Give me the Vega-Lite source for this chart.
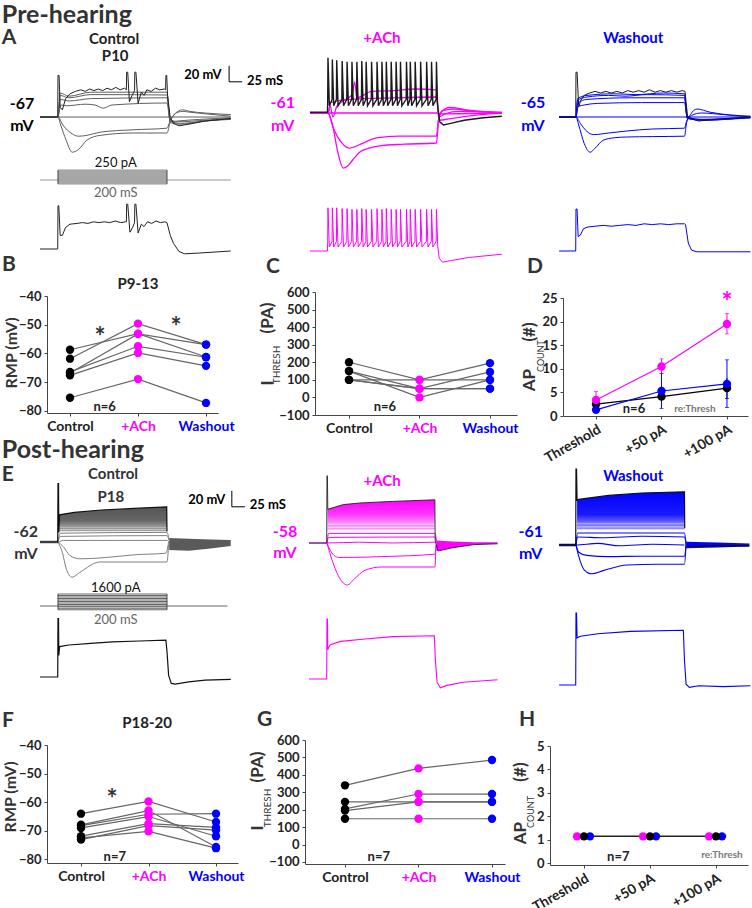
{"$schema":"https://vega.github.io/schema/vega-lite/v6.json","padding":0,"background":"white","columns":3,"spacing":0,"bounds":"flush","align":"each",
"config":{"view":{"stroke":null},"text":{"font":"Lato","fontWeight":"bold","baseline":"middle","color":"#222"},"axis":{"grid":false,"labelFont":"Lato","labelFontWeight":"bold","labelFontSize":13,"labelColor":"#222","domainColor":"#444","tickColor":"#444","tickSize":3,"labelPadding":3,"labelFlush":false,"labelOverlap":false,"title":null}},
"datasets":{
"fA":[{"s":1,"t":-33,"v":-67},{"s":1,"t":317,"v":-67},
{"s":2,"t":-33,"v":-67},{"s":2,"t":0,"v":-67},{"s":2,"t":9,"v":-77},{"s":2,"t":26,"v":-88},{"s":2,"t":37,"v":-91},{"s":2,"t":53,"v":-90},{"s":2,"t":77,"v":-86},{"s":2,"t":138,"v":-83},{"s":2,"t":200,"v":-81},{"s":2,"t":206,"v":-71},{"s":2,"t":211,"v":-66},{"s":2,"t":220,"v":-61},{"s":2,"t":229,"v":-60},{"s":2,"t":242,"v":-61},{"s":2,"t":270,"v":-63},{"s":2,"t":317,"v":-66},
{"s":3,"t":-33,"v":-67},{"s":3,"t":0,"v":-67},{"s":3,"t":5,"v":-77},{"s":3,"t":15,"v":-96},{"s":3,"t":26,"v":-111},{"s":3,"t":37,"v":-108},{"s":3,"t":53,"v":-96},{"s":3,"t":77,"v":-90},{"s":3,"t":138,"v":-87},{"s":3,"t":200,"v":-87},{"s":3,"t":206,"v":-73},{"s":3,"t":211,"v":-66},{"s":3,"t":220,"v":-60},{"s":3,"t":229,"v":-58},{"s":3,"t":242,"v":-60},{"s":3,"t":270,"v":-62},{"s":3,"t":317,"v":-64},
{"s":4,"t":-33,"v":-67},{"s":4,"t":0,"v":-67},{"s":4,"t":5,"v":-52},{"s":4,"t":15,"v":-53},{"s":4,"t":50,"v":-51},{"s":4,"t":68,"v":-52},{"s":4,"t":83,"v":-56},{"s":4,"t":99,"v":-52},{"s":4,"t":200,"v":-49.5},{"s":4,"t":206,"v":-73},{"s":4,"t":220,"v":-72},{"s":4,"t":260,"v":-70},{"s":4,"t":317,"v":-68},
{"s":5,"t":-33,"v":-67},{"s":5,"t":0,"v":-67},{"s":5,"t":4,"v":-45},{"s":5,"t":20,"v":-47},{"s":5,"t":60,"v":-44},{"s":5,"t":200,"v":-43},{"s":5,"t":206,"v":-70},{"s":5,"t":220,"v":-73},{"s":5,"t":270,"v":-71},{"s":5,"t":317,"v":-69},
{"s":6,"t":-33,"v":-67},{"s":6,"t":0,"v":-67},{"s":6,"t":4,"v":-40},{"s":6,"t":20,"v":-43},{"s":6,"t":60,"v":-39},{"s":6,"t":200,"v":-39.5},{"s":6,"t":206,"v":-72},{"s":6,"t":225,"v":-75},{"s":6,"t":270,"v":-72},{"s":6,"t":317,"v":-70},
{"s":7,"t":-33,"v":-67},{"s":7,"t":0,"v":-67},{"s":7,"t":4,"v":-37},{"s":7,"t":20,"v":-41},{"s":7,"t":60,"v":-36},{"s":7,"t":200,"v":-36},{"s":7,"t":206,"v":-74},{"s":7,"t":225,"v":-76},{"s":7,"t":270,"v":-72},{"s":7,"t":317,"v":-69}],
"kA":[{"t":-33,"v":-67},{"t":-0.5,"v":-67},{"t":0,"v":-15},{"t":2,"v":-15},{"t":4,"v":-55},{"t":8,"v":-58},{"t":14,"v":-44},{"t":22,"v":-38},{"t":32,"v":-35},{"t":42,"v":-33},{"t":50,"v":-35},{"t":58,"v":-32},{"t":66,"v":-34},{"t":74,"v":-32},{"t":82,"v":-34},{"t":90,"v":-31},{"t":98,"v":-33},{"t":106,"v":-30},{"t":114,"v":-33},{"t":122,"v":-31},{"t":125.5,"v":-33},{"t":126,"v":-11},{"t":128,"v":-11},{"t":131,"v":-48},{"t":136,"v":-40},{"t":140.5,"v":-34},{"t":141,"v":-11},{"t":143,"v":-11},{"t":147,"v":-50},{"t":153,"v":-36},{"t":158,"v":-40},{"t":163,"v":-33},{"t":171,"v":-35},{"t":179,"v":-31},{"t":187,"v":-33},{"t":195,"v":-32},{"t":197.5,"v":-33},{"t":198,"v":-15},{"t":199.5,"v":-15},{"t":201,"v":-40},{"t":206,"v":-68},{"t":212,"v":-75},{"t":222,"v":-78},{"t":240,"v":-76},{"t":270,"v":-72},{"t":317,"v":-69}],
"fB":[{"s":1,"t":-33,"v":-61},{"s":1,"t":200,"v":-61},{"s":1,"t":205,"v":-62},{"s":1,"t":319,"v":-61},
{"s":2,"t":-33,"v":-61},{"s":2,"t":0,"v":-61},{"s":2,"t":8,"v":-75},{"s":2,"t":18,"v":-110},{"s":2,"t":28,"v":-130},{"s":2,"t":35,"v":-128},{"s":2,"t":45,"v":-120},{"s":2,"t":58,"v":-110},{"s":2,"t":75,"v":-105},{"s":2,"t":95,"v":-102},{"s":2,"t":140,"v":-100},{"s":2,"t":199,"v":-98.5},{"s":2,"t":203,"v":-70},{"s":2,"t":208,"v":-60},{"s":2,"t":223,"v":-54},{"s":2,"t":254,"v":-57},{"s":2,"t":319,"v":-61},
{"s":3,"t":-33,"v":-61},{"s":3,"t":0,"v":-61},{"s":3,"t":10,"v":-80},{"s":3,"t":25,"v":-98},{"s":3,"t":40,"v":-105},{"s":3,"t":60,"v":-100},{"s":3,"t":89,"v":-92},{"s":3,"t":130,"v":-90},{"s":3,"t":199,"v":-90},{"s":3,"t":203,"v":-68},{"s":3,"t":210,"v":-58},{"s":3,"t":230,"v":-56},{"s":3,"t":270,"v":-59},{"s":3,"t":319,"v":-61},
{"s":4,"t":-33,"v":-61},{"s":4,"t":0,"v":-61},{"s":4,"t":4,"v":-52},{"s":4,"t":9,"v":-66},{"s":4,"t":16,"v":-53},{"s":4,"t":30,"v":-45},{"s":4,"t":44,"v":-38},{"s":4,"t":49,"v":-22},{"s":4,"t":53,"v":-42},{"s":4,"t":80,"v":-34},{"s":4,"t":120,"v":-33},{"s":4,"t":160,"v":-31},{"s":4,"t":199,"v":-32},{"s":4,"t":203,"v":-66},{"s":4,"t":215,"v":-62},{"s":4,"t":240,"v":-59},{"s":4,"t":319,"v":-60},
{"s":5,"t":-33,"v":-61},{"s":5,"t":0,"v":-61},{"s":5,"t":5,"v":-48},{"s":5,"t":40,"v":-44},{"s":5,"t":120,"v":-42},{"s":5,"t":199,"v":-41},{"s":5,"t":204,"v":-70},{"s":5,"t":225,"v":-68},{"s":5,"t":280,"v":-63},{"s":5,"t":319,"v":-61}],
"kB":[{"t":-33,"v":-60},{"t":-1,"v":-60},{"t":-0.5,"v":-44},{"t":0,"v":8},{"t":2.5,"v":-52},{"t":7.5,"v":-44},{"t":8,"v":6},{"t":10.5,"v":-52},{"t":15.5,"v":-44},{"t":16,"v":5},{"t":18.5,"v":-52},{"t":25.5,"v":-44},{"t":26,"v":4},{"t":28.5,"v":-52},{"t":34.5,"v":-44},{"t":35,"v":3},{"t":37.5,"v":-52},{"t":43.5,"v":-44},{"t":44,"v":3},{"t":46.5,"v":-52},{"t":52.5,"v":-44},{"t":53,"v":3},{"t":55.5,"v":-52},{"t":61.5,"v":-44},{"t":62,"v":4},{"t":64.5,"v":-52},{"t":69.5,"v":-44},{"t":70,"v":3},{"t":72.5,"v":-52},{"t":79.5,"v":-44},{"t":80,"v":3},{"t":82.5,"v":-52},{"t":89.5,"v":-44},{"t":90,"v":3},{"t":92.5,"v":-52},{"t":98.5,"v":-44},{"t":99,"v":3},{"t":101.5,"v":-52},{"t":106.5,"v":-44},{"t":107,"v":3},{"t":109.5,"v":-52},{"t":115.5,"v":-44},{"t":116,"v":3},{"t":118.5,"v":-52},{"t":124.5,"v":-44},{"t":125,"v":3},{"t":127.5,"v":-52},{"t":132.5,"v":-44},{"t":133,"v":3},{"t":135.5,"v":-52},{"t":143.5,"v":-44},{"t":144,"v":3},{"t":146.5,"v":-52},{"t":150.5,"v":-44},{"t":151,"v":3},{"t":153.5,"v":-52},{"t":159.5,"v":-44},{"t":160,"v":3},{"t":162.5,"v":-52},{"t":169.5,"v":-44},{"t":170,"v":3},{"t":172.5,"v":-52},{"t":180.5,"v":-44},{"t":181,"v":3},{"t":183.5,"v":-52},{"t":189.5,"v":-44},{"t":190,"v":3},{"t":192.5,"v":-52},{"t":198.5,"v":-44},{"t":199,"v":3},{"t":201,"v":-50},{"t":205,"v":-72},{"t":212,"v":-76},{"t":225,"v":-74},{"t":250,"v":-70},{"t":285,"v":-67},{"t":319,"v":-65}],
"fC":[{"s":1,"t":-31,"v":-65},{"s":1,"t":320,"v":-65},
{"s":2,"t":-31,"v":-65},{"s":2,"t":0,"v":-65},{"s":2,"t":5,"v":-75},{"s":2,"t":15,"v":-98},{"s":2,"t":26,"v":-109},{"s":2,"t":35,"v":-104},{"s":2,"t":50,"v":-94},{"s":2,"t":70,"v":-91},{"s":2,"t":93,"v":-90},{"s":2,"t":140,"v":-89.5},{"s":2,"t":199,"v":-89},{"s":2,"t":203,"v":-72},{"s":2,"t":210,"v":-62},{"s":2,"t":222,"v":-55},{"s":2,"t":246,"v":-59},{"s":2,"t":320,"v":-64},
{"s":3,"t":-31,"v":-65},{"s":3,"t":0,"v":-65},{"s":3,"t":8,"v":-73},{"s":3,"t":20,"v":-83},{"s":3,"t":32,"v":-87},{"s":3,"t":60,"v":-85},{"s":3,"t":93,"v":-82.5},{"s":3,"t":140,"v":-80},{"s":3,"t":199,"v":-79},{"s":3,"t":203,"v":-70},{"s":3,"t":212,"v":-63},{"s":3,"t":230,"v":-60},{"s":3,"t":270,"v":-62},{"s":3,"t":320,"v":-65},
{"s":4,"t":-31,"v":-65},{"s":4,"t":0,"v":-65},{"s":4,"t":4,"v":-52},{"s":4,"t":15,"v":-50},{"s":4,"t":40,"v":-48},{"s":4,"t":120,"v":-47},{"s":4,"t":199,"v":-47},{"s":4,"t":204,"v":-64},{"s":4,"t":225,"v":-68},{"s":4,"t":320,"v":-66},
{"s":5,"t":-31,"v":-65},{"s":5,"t":0,"v":-65},{"s":5,"t":3,"v":-48},{"s":5,"t":20,"v":-43},{"s":5,"t":100,"v":-41},{"s":5,"t":199,"v":-41},{"s":5,"t":204,"v":-66},{"s":5,"t":230,"v":-69},{"s":5,"t":320,"v":-66},
{"s":6,"t":-31,"v":-65},{"s":6,"t":0,"v":-65},{"s":6,"t":3,"v":-44},{"s":6,"t":20,"v":-40},{"s":6,"t":60,"v":-38},{"s":6,"t":90,"v":-39},{"s":6,"t":130,"v":-37},{"s":6,"t":199,"v":-38},{"s":6,"t":204,"v":-66},{"s":6,"t":235,"v":-68},{"s":6,"t":320,"v":-65},
{"s":7,"t":-31,"v":-65},{"s":7,"t":0,"v":-65},{"s":7,"t":3,"v":-42},{"s":7,"t":20,"v":-38},{"s":7,"t":70,"v":-36},{"s":7,"t":110,"v":-37},{"s":7,"t":160,"v":-35},{"s":7,"t":199,"v":-36},{"s":7,"t":204,"v":-67},{"s":7,"t":235,"v":-69},{"s":7,"t":320,"v":-65}],
"kC":[{"t":-31,"v":-65},{"t":-0.5,"v":-65},{"t":0,"v":-9},{"t":2,"v":-9},{"t":5,"v":-52},{"t":9,"v":-44},{"t":15,"v":-38},{"t":25,"v":-35},{"t":35,"v":-33},{"t":45,"v":-35},{"t":55,"v":-33},{"t":65,"v":-35},{"t":75,"v":-33},{"t":85,"v":-35},{"t":95,"v":-32},{"t":105,"v":-34},{"t":115,"v":-32},{"t":125,"v":-34},{"t":135,"v":-31},{"t":145,"v":-34},{"t":155,"v":-32},{"t":165,"v":-34},{"t":175,"v":-32},{"t":185,"v":-34},{"t":195,"v":-32},{"t":200,"v":-33},{"t":205,"v":-66},{"t":225,"v":-70},{"t":270,"v":-67},{"t":320,"v":-65}],
"sA":[{"t":-33,"v":-67},{"t":-0.5,"v":-67},{"t":0,"v":-13},{"t":1.5,"v":-13},{"t":4,"v":-50},{"t":8,"v":-50},{"t":14,"v":-40},{"t":22,"v":-36},{"t":35,"v":-35},{"t":45,"v":-34},{"t":55,"v":-35},{"t":65,"v":-33},{"t":75,"v":-34},{"t":85,"v":-33},{"t":95,"v":-34},{"t":105,"v":-32},{"t":115,"v":-34},{"t":124,"v":-33},{"t":125.5,"v":-33},{"t":126,"v":-11},{"t":128,"v":-11},{"t":132,"v":-46},{"t":137,"v":-40},{"t":140.5,"v":-34},{"t":141,"v":-11},{"t":143,"v":-11},{"t":147,"v":-47},{"t":153,"v":-36},{"t":158,"v":-39},{"t":164,"v":-33},{"t":172,"v":-35},{"t":180,"v":-32},{"t":188,"v":-34},{"t":196,"v":-33},{"t":200,"v":-34},{"t":206,"v":-50},{"t":212,"v":-60},{"t":222,"v":-70},{"t":232,"v":-73},{"t":260,"v":-72},{"t":317,"v":-69.5}],
"sB":[{"t":-33,"v":-61},{"t":-1,"v":-61},{"t":-0.5,"v":-49},{"t":0,"v":-7},{"t":2.5,"v":-56},{"t":7.5,"v":-49},{"t":8,"v":-7},{"t":10.5,"v":-56},{"t":15.5,"v":-49},{"t":16,"v":-7},{"t":18.5,"v":-56},{"t":25.5,"v":-49},{"t":26,"v":-8},{"t":28.5,"v":-56},{"t":34.5,"v":-49},{"t":35,"v":-8},{"t":37.5,"v":-56},{"t":43.5,"v":-49},{"t":44,"v":-9},{"t":46.5,"v":-56},{"t":52.5,"v":-49},{"t":53,"v":-9},{"t":55.5,"v":-56},{"t":61.5,"v":-49},{"t":62,"v":-8},{"t":64.5,"v":-56},{"t":69.5,"v":-49},{"t":70,"v":-9},{"t":72.5,"v":-56},{"t":79.5,"v":-49},{"t":80,"v":-9},{"t":82.5,"v":-56},{"t":89.5,"v":-49},{"t":90,"v":-8},{"t":92.5,"v":-56},{"t":98.5,"v":-49},{"t":99,"v":-9},{"t":101.5,"v":-56},{"t":106.5,"v":-49},{"t":107,"v":-8},{"t":109.5,"v":-56},{"t":115.5,"v":-49},{"t":116,"v":-9},{"t":118.5,"v":-56},{"t":124.5,"v":-49},{"t":125,"v":-9},{"t":127.5,"v":-56},{"t":132.5,"v":-49},{"t":133,"v":-9},{"t":135.5,"v":-56},{"t":143.5,"v":-49},{"t":144,"v":-9},{"t":146.5,"v":-56},{"t":150.5,"v":-49},{"t":151,"v":-9},{"t":153.5,"v":-56},{"t":159.5,"v":-49},{"t":160,"v":-9},{"t":162.5,"v":-56},{"t":169.5,"v":-49},{"t":170,"v":-9},{"t":172.5,"v":-56},{"t":180.5,"v":-49},{"t":181,"v":-9},{"t":183.5,"v":-56},{"t":189.5,"v":-49},{"t":190,"v":-9},{"t":192.5,"v":-56},{"t":198.5,"v":-49},{"t":199,"v":-9},{"t":201.5,"v":-56},{"t":204,"v":-70},{"t":210,"v":-75},{"t":225,"v":-73},{"t":260,"v":-69},{"t":319,"v":-65}],
"sC":[{"t":-31,"v":-65},{"t":-0.5,"v":-65},{"t":0,"v":-12.5},{"t":2,"v":-12.5},{"t":4,"v":-47},{"t":8,"v":-45},{"t":14,"v":-37},{"t":22,"v":-35},{"t":35,"v":-34},{"t":50,"v":-33},{"t":65,"v":-34},{"t":80,"v":-33},{"t":95,"v":-32},{"t":110,"v":-33},{"t":125,"v":-31},{"t":140,"v":-32},{"t":155,"v":-31},{"t":170,"v":-32},{"t":185,"v":-31},{"t":199,"v":-31},{"t":201,"v":-32},{"t":206,"v":-55},{"t":212,"v":-64},{"t":222,"v":-66},{"t":320,"v":-66}],
"stimA":[{"t":-33,"t2":317,"pA":0},{"t":0,"t2":200,"pA":-100},{"t":0,"t2":200,"pA":-75},{"t":0,"t2":200,"pA":-50},{"t":0,"t2":200,"pA":-25},{"t":0,"t2":200,"pA":25},{"t":0,"t2":200,"pA":50},{"t":0,"t2":200,"pA":75},{"t":0,"t2":200,"pA":100},{"t":0,"t2":200,"pA":125},{"t":0,"t2":200,"pA":150},{"t":0,"t2":200,"pA":175},{"t":0,"t2":200,"pA":200},{"t":0,"t2":200,"pA":225},{"t":0,"t2":200,"pA":250}],
"stimE":[{"t":-33,"t2":311,"pA":0},{"t":0,"t2":200,"pA":-500},{"t":0,"t2":200,"pA":-300},{"t":0,"t2":200,"pA":-100},{"t":0,"t2":200,"pA":200},{"t":0,"t2":200,"pA":400},{"t":0,"t2":200,"pA":600},{"t":0,"t2":200,"pA":800},{"t":0,"t2":200,"pA":1000},{"t":0,"t2":200,"pA":1200},{"t":0,"t2":200,"pA":1400},{"t":0,"t2":200,"pA":1600}],
"aE":[{"t":0,"v":-28,"low":-49},{"t":30,"v":-25,"low":-49},{"t":80,"v":-22,"low":-49},{"t":140,"v":-20,"low":-49},{"t":200,"v":-18,"low":-49}],
"bE":[{"t":204,"v":-57,"low":-72},{"t":240,"v":-58,"low":-73},{"t":280,"v":-59,"low":-70},{"t":317,"v":-59.5,"low":-67}],
"fE":[{"s":1,"t":-33,"v":-62},{"s":1,"t":0,"v":-62},{"s":1,"t":10,"v":-60},{"s":1,"t":200,"v":-60},{"s":1,"t":204,"v":-62},
{"s":2,"t":0,"v":-62},{"s":2,"t":4,"v":-55},{"s":2,"t":200,"v":-54},{"s":2,"t":204,"v":-60},
{"s":3,"t":0,"v":-62},{"s":3,"t":4,"v":-51},{"s":3,"t":200,"v":-50},{"s":3,"t":204,"v":-60},
{"s":4,"t":0,"v":-62},{"s":4,"t":10,"v":-68},{"s":4,"t":22,"v":-79},{"s":4,"t":40,"v":-83},{"s":4,"t":77,"v":-82},{"s":4,"t":140,"v":-78},{"s":4,"t":198,"v":-76},{"s":4,"t":203,"v":-62},
{"s":5,"t":0,"v":-62},{"s":5,"t":8,"v":-75},{"s":5,"t":15,"v":-95},{"s":5,"t":26,"v":-106},{"s":5,"t":40,"v":-100},{"s":5,"t":77,"v":-87},{"s":5,"t":138,"v":-87},{"s":5,"t":200,"v":-87},{"s":5,"t":203,"v":-65}],
"kE":[{"t":-33,"v":-62},{"t":-0.5,"v":-62},{"t":0,"v":11},{"t":1,"v":11},{"t":1.5,"v":-50},{"t":3,"v":-28},{"t":30,"v":-25},{"t":80,"v":-22},{"t":140,"v":-20},{"t":199.5,"v":-18},{"t":200,"v":-49}],
"preE":[{"t":-33,"v":-62},{"t":0,"v":-62}],
"sE":[{"t":-33,"v":-62},{"t":-0.5,"v":-62},{"t":0,"v":11},{"t":1,"v":11},{"t":1.5,"v":-35},{"t":3,"v":-24},{"t":20,"v":-22},{"t":60,"v":-20},{"t":100,"v":-18},{"t":150,"v":-17},{"t":198,"v":-16},{"t":200,"v":-30},{"t":203,"v":-60},{"t":208,"v":-70},{"t":215,"v":-71},{"t":240,"v":-68},{"t":270,"v":-66},{"t":317,"v":-65}],
"aF":[{"t":1,"v":-15.5,"low":-42},{"t":30,"v":-10,"low":-42},{"t":60,"v":-8,"low":-42},{"t":120,"v":-6,"low":-42},{"t":198,"v":-4,"low":-42}],
"bF":[{"t":201,"v":-55,"low":-68},{"t":230,"v":-56,"low":-64},{"t":270,"v":-57,"low":-60},{"t":313,"v":-57,"low":-59}],
"fF":[{"s":1,"t":-33,"v":-58},{"s":1,"t":0,"v":-58},{"s":1,"t":60,"v":-57},{"s":1,"t":120,"v":-58},{"s":1,"t":198,"v":-57},{"s":1,"t":202,"v":-58},
{"s":2,"t":0,"v":-58},{"s":2,"t":3,"v":-51},{"s":2,"t":198,"v":-50.5},{"s":2,"t":201,"v":-56},
{"s":3,"t":0,"v":-58},{"s":3,"t":3,"v":-46},{"s":3,"t":198,"v":-46},{"s":3,"t":201,"v":-56},
{"s":4,"t":0,"v":-58},{"s":4,"t":5,"v":-66},{"s":4,"t":21,"v":-76},{"s":4,"t":40,"v":-76},{"s":4,"t":100,"v":-75},{"s":4,"t":198,"v":-72},{"s":4,"t":201,"v":-60},
{"s":5,"t":0,"v":-58},{"s":5,"t":5,"v":-70},{"s":5,"t":15,"v":-90},{"s":5,"t":30,"v":-108},{"s":5,"t":37,"v":-110.5},{"s":5,"t":50,"v":-103},{"s":5,"t":70,"v":-92},{"s":5,"t":100,"v":-88},{"s":5,"t":198,"v":-88},{"s":5,"t":200,"v":-60}],
"kF":[{"t":-33,"v":-58},{"t":-0.5,"v":-58},{"t":0,"v":26},{"t":0.8,"v":26},{"t":1.5,"v":-16},{"t":30,"v":-10},{"t":60,"v":-8},{"t":120,"v":-6},{"t":198,"v":-4},{"t":198.5,"v":-55},{"t":204,"v":-68},{"t":230,"v":-64},{"t":270,"v":-60},{"t":313,"v":-59}],
"sF":[{"t":-33,"v":-58},{"t":-0.5,"v":-58},{"t":0,"v":17},{"t":0.8,"v":17},{"t":1.5,"v":-21},{"t":6,"v":-15},{"t":25,"v":-11},{"t":70,"v":-8},{"t":120,"v":-5},{"t":197,"v":-4},{"t":199,"v":-35},{"t":202,"v":-62},{"t":208,"v":-69},{"t":220,"v":-66},{"t":250,"v":-62},{"t":313,"v":-59}],
"aG":[{"t":2,"v":-4,"low":-42},{"t":60,"v":1,"low":-42},{"t":120,"v":4,"low":-42},{"t":199,"v":5.5,"low":-42}],
"bG":[{"t":202,"v":-57,"low":-65},{"t":260,"v":-58,"low":-64},{"t":318,"v":-59,"low":-63}],
"fG":[{"s":1,"t":-31,"v":-61},{"s":1,"t":0,"v":-61},{"s":1,"t":40,"v":-59},{"s":1,"t":80,"v":-62},{"s":1,"t":140,"v":-60},{"s":1,"t":199,"v":-61},
{"s":2,"t":0,"v":-61},{"s":2,"t":3,"v":-51},{"s":2,"t":50,"v":-52},{"s":2,"t":120,"v":-50},{"s":2,"t":199,"v":-51},{"s":2,"t":202,"v":-60},
{"s":3,"t":0,"v":-61},{"s":3,"t":3,"v":-46},{"s":3,"t":199,"v":-46},{"s":3,"t":202,"v":-60},
{"s":4,"t":0,"v":-61},{"s":4,"t":5,"v":-70},{"s":4,"t":20,"v":-74},{"s":4,"t":60,"v":-75.5},{"s":4,"t":120,"v":-75},{"s":4,"t":199,"v":-75},{"s":4,"t":202,"v":-60},
{"s":5,"t":0,"v":-61},{"s":5,"t":5,"v":-75},{"s":5,"t":15,"v":-92},{"s":5,"t":29,"v":-97},{"s":5,"t":50,"v":-93},{"s":5,"t":94,"v":-86},{"s":5,"t":150,"v":-85},{"s":5,"t":199,"v":-85},{"s":5,"t":202,"v":-60}],
"kG":[{"t":-31,"v":-61},{"t":-0.5,"v":-61},{"t":0,"v":34},{"t":1,"v":34},{"t":2,"v":-5},{"t":5,"v":-4},{"t":60,"v":1},{"t":120,"v":4},{"t":199,"v":5.5},{"t":199.5,"v":-40}],
"preG":[{"t":-31,"v":-61},{"t":0,"v":-61}],
"postG":[{"t":203,"v":-63},{"t":260,"v":-62},{"t":318,"v":-62}],
"sG":[{"t":-31,"v":-61},{"t":-0.5,"v":-61},{"t":0,"v":29},{"t":1,"v":29},{"t":2,"v":-2},{"t":8,"v":0},{"t":40,"v":3},{"t":100,"v":6},{"t":197,"v":7.5},{"t":199,"v":-30},{"t":202,"v":-60},{"t":208,"v":-64},{"t":225,"v":-62},{"t":270,"v":-63},{"t":320,"v":-62}],
"dB":[{"c":1,"x":1,"cond":"Control","v":-61.8},{"c":1,"x":2,"cond":"+ACh","v":-49.6},{"c":1,"x":3,"cond":"Washout","v":-56.9},{"c":2,"x":1,"cond":"Control","v":-58.7},{"c":2,"x":2,"cond":"+ACh","v":-53.1},{"c":2,"x":3,"cond":"Washout","v":-61.2},{"c":3,"x":1,"cond":"Control","v":-66.4},{"c":3,"x":2,"cond":"+ACh","v":-57.5},{"c":3,"x":3,"cond":"Washout","v":-61.3},{"c":4,"x":1,"cond":"Control","v":-67.6},{"c":4,"x":2,"cond":"+ACh","v":-59.8},{"c":4,"x":3,"cond":"Washout","v":-64.3},{"c":5,"x":1,"cond":"Control","v":-75.4},{"c":5,"x":2,"cond":"+ACh","v":-68.9},{"c":5,"x":3,"cond":"Washout","v":-77.2},{"c":6,"x":1,"cond":"Control","v":-66.8},{"c":6,"x":2,"cond":"+ACh","v":-53.2},{"c":6,"x":3,"cond":"Washout","v":-56.9}],
"dC":[{"c":1,"x":1,"cond":"Control","v":200},{"c":1,"x":2,"cond":"+ACh","v":100},{"c":1,"x":3,"cond":"Washout","v":195},{"c":2,"x":1,"cond":"Control","v":150},{"c":2,"x":2,"cond":"+ACh","v":0},{"c":2,"x":3,"cond":"Washout","v":100},{"c":3,"x":1,"cond":"Control","v":100},{"c":3,"x":2,"cond":"+ACh","v":100},{"c":3,"x":3,"cond":"Washout","v":100},{"c":4,"x":1,"cond":"Control","v":100},{"c":4,"x":2,"cond":"+ACh","v":50},{"c":4,"x":3,"cond":"Washout","v":145},{"c":5,"x":1,"cond":"Control","v":150},{"c":5,"x":2,"cond":"+ACh","v":50},{"c":5,"x":3,"cond":"Washout","v":50},{"c":6,"x":1,"cond":"Control","v":100},{"c":6,"x":2,"cond":"+ACh","v":50},{"c":6,"x":3,"cond":"Washout","v":50}],
"dD":[{"x":1,"cond":"Control","v":2.5},{"x":2,"cond":"Control","v":4.1},{"x":3,"cond":"Control","v":5.9},{"x":1,"cond":"Washout","v":1.3},{"x":2,"cond":"Washout","v":5.3},{"x":3,"cond":"Washout","v":6.8},{"x":1,"cond":"+ACh","v":3.4},{"x":2,"cond":"+ACh","v":10.5},{"x":3,"cond":"+ACh","v":19.5}],
"eD":[{"x":1,"cond":"Control","v":1.6,"v2":3.4},{"x":2,"cond":"Control","v":3,"v2":5.5},{"x":3,"cond":"Control","v":3.7,"v2":8},{"x":1,"cond":"Washout","v":0.8,"v2":1.8},{"x":2,"cond":"Washout","v":1.6,"v2":9},{"x":3,"cond":"Washout","v":1.8,"v2":11.9},{"x":1,"cond":"+ACh","v":2,"v2":5.2},{"x":2,"cond":"+ACh","v":9,"v2":12.1},{"x":3,"cond":"+ACh","v":17.4,"v2":21.7}],
"cD":[{"x":2,"cond":"Washout","v":1.6},{"x":2,"cond":"Washout","v":9},{"x":3,"cond":"Washout","v":1.8},{"x":3,"cond":"Washout","v":11.9},{"x":3,"cond":"Control","v":3.7},{"x":1,"cond":"+ACh","v":5.2},{"x":2,"cond":"+ACh","v":12.1},{"x":3,"cond":"+ACh","v":17.4},{"x":3,"cond":"+ACh","v":21.7}],
"dF":[{"c":1,"x":1,"cond":"Control","v":-64.1},{"c":1,"x":2,"cond":"+ACh","v":-59.8},{"c":1,"x":3,"cond":"Washout","v":-67},{"c":2,"x":1,"cond":"Control","v":-68},{"c":2,"x":2,"cond":"+ACh","v":-63},{"c":2,"x":3,"cond":"Washout","v":-75.8},{"c":3,"x":1,"cond":"Control","v":-68.3},{"c":3,"x":2,"cond":"+ACh","v":-64.3},{"c":3,"x":3,"cond":"Washout","v":-64.1},{"c":4,"x":1,"cond":"Control","v":-69.1},{"c":4,"x":2,"cond":"+ACh","v":-65.1},{"c":4,"x":3,"cond":"Washout","v":-72},{"c":5,"x":1,"cond":"Control","v":-72},{"c":5,"x":2,"cond":"+ACh","v":-67.6},{"c":5,"x":3,"cond":"Washout","v":-68.9},{"c":6,"x":1,"cond":"Control","v":-73.2},{"c":6,"x":2,"cond":"+ACh","v":-68.3},{"c":6,"x":3,"cond":"Washout","v":-69.9},{"c":7,"x":1,"cond":"Control","v":-72.6},{"c":7,"x":2,"cond":"+ACh","v":-70.3},{"c":7,"x":3,"cond":"Washout","v":-76.2}],
"dG":[{"c":1,"x":1,"cond":"Control","v":340},{"c":1,"x":2,"cond":"+ACh","v":437},{"c":1,"x":3,"cond":"Washout","v":485},{"c":2,"x":1,"cond":"Control","v":245},{"c":2,"x":2,"cond":"+ACh","v":245},{"c":2,"x":3,"cond":"Washout","v":245},{"c":3,"x":1,"cond":"Control","v":205},{"c":3,"x":2,"cond":"+ACh","v":290},{"c":3,"x":3,"cond":"Washout","v":290},{"c":4,"x":1,"cond":"Control","v":195},{"c":4,"x":2,"cond":"+ACh","v":245},{"c":4,"x":3,"cond":"Washout","v":245},{"c":5,"x":1,"cond":"Control","v":148},{"c":5,"x":2,"cond":"+ACh","v":148},{"c":5,"x":3,"cond":"Washout","v":148}],
"dH":[{"x":1,"cond":"+ACh","v":1.15},{"x":2,"cond":"+ACh","v":1.15},{"x":3,"cond":"+ACh","v":1.15},{"x":1,"cond":"Washout","v":1.15},{"x":2,"cond":"Washout","v":1.15},{"x":3,"cond":"Washout","v":1.15},{"x":1,"cond":"Control","v":1.15},{"x":2,"cond":"Control","v":1.15},{"x":3,"cond":"Control","v":1.15}]
},
"concat":[
{"width":252,"height":170,"encoding":{"x":{"field":"t","type":"quantitative","axis":null,"scale":{"domain":[-106.4,356],"nice":false,"zero":false}},"y":{"field":"v","type":"quantitative","axis":null,"scale":{"domain":[-133.25,79.25],"nice":false,"zero":false}}},"layer":[
{"data":{"name":"fA"},"mark":{"type":"line","color":"#5f5f5f","strokeWidth":1,"interpolate":"monotone"},"encoding":{"detail":{"field":"s"}}},
{"data":{"name":"kA"},"mark":{"type":"line","color":"#222","strokeWidth":1}},
{"data":{"values":[{"t":314,"t2":338,"v":-23}]},"mark":{"type":"rule","color":"#000"},"encoding":{"x2":{"field":"t2"}}},
{"data":{"values":[{"t":314,"v":-23,"v2":-3}]},"mark":{"type":"rule","color":"#000"},"encoding":{"y2":{"field":"v2"}}},
{"data":{"values":[{"t":-103,"v":60,"label":"Pre-hearing"}]},"mark":{"type":"text","fontSize":25,"align":"left","color":"#333"},"encoding":{"text":{"field":"label"}}},
{"data":{"values":[{"t":-103,"v":32,"label":"A"}]},"mark":{"type":"text","fontSize":21,"align":"left","color":"#333"},"encoding":{"text":{"field":"label"}}},
{"data":{"values":[{"t":103,"v":30.5,"label":"Control"},{"t":105,"v":9,"label":"P10"}]},"mark":{"type":"text","fontSize":15,"color":"#222"},"encoding":{"text":{"field":"label"}}},
{"data":{"values":[{"t":266,"v":-14.5,"label":"20 mV"},{"t":380,"v":-22,"label":"25 mS"}]},"mark":{"type":"text","fontSize":13,"color":"#000"},"encoding":{"text":{"field":"label"}}},
{"data":{"values":[{"t":-66,"v":-50.75,"label":"-67"},{"t":-66,"v":-78,"label":"mV"}]},"mark":{"type":"text","fontSize":16,"color":"#000"},"encoding":{"text":{"field":"label"}}}
]},
{"width":248,"height":170,"encoding":{"x":{"field":"t","type":"quantitative","axis":null,"scale":{"domain":[-139.4,315.6],"nice":false,"zero":false}},"y":{"field":"v","type":"quantitative","axis":null,"scale":{"domain":[-132.25,80.25],"nice":false,"zero":false}}},"layer":[
{"data":{"name":"fB"},"mark":{"type":"line","color":"#ff00ff","strokeWidth":1.3,"interpolate":"monotone"},"encoding":{"detail":{"field":"s"}}},
{"data":{"name":"kB"},"mark":{"type":"line","color":"#1a1a1a","strokeWidth":1.4}},
{"data":{"values":[{"t":99,"v":32.75,"label":"+ACh"}]},"mark":{"type":"text","fontSize":15,"color":"#ff00ff"},"encoding":{"text":{"field":"label"}}},
{"data":{"values":[{"t":-83,"v":-48.5,"label":"-61"},{"t":-83,"v":-77,"label":"mV"}]},"mark":{"type":"text","fontSize":16,"color":"#ff00ff"},"encoding":{"text":{"field":"label"}}}
]},
{"width":252,"height":170,"encoding":{"x":{"field":"t","type":"quantitative","axis":null,"scale":{"domain":[-139.4,322.9],"nice":false,"zero":false}},"y":{"field":"v","type":"quantitative","axis":null,"scale":{"domain":[-131.25,81.25],"nice":false,"zero":false}}},"layer":[
{"data":{"name":"fC"},"mark":{"type":"line","color":"#0000ff","strokeWidth":1,"interpolate":"monotone"},"encoding":{"detail":{"field":"s"}}},
{"data":{"name":"kC"},"mark":{"type":"line","color":"#1a1a1a","strokeWidth":1}},
{"data":{"values":[{"t":105,"v":33.75,"label":"Washout"}]},"mark":{"type":"text","fontSize":15,"color":"#0000ff"},"encoding":{"text":{"field":"label"}}},
{"data":{"values":[{"t":-79,"v":-47.5,"label":"-65"},{"t":-79,"v":-76,"label":"mV"}]},"mark":{"type":"text","fontSize":16,"color":"#0000ff"},"encoding":{"text":{"field":"label"}}}
]},
{"width":252,"height":30,"encoding":{"x":{"field":"t","type":"quantitative","axis":null,"scale":{"domain":[-106.4,356],"nice":false,"zero":false}},"y":{"field":"pA","type":"quantitative","axis":null,"scale":{"domain":[-500,250],"nice":false,"zero":false}}},"layer":[
{"data":{"name":"stimA"},"mark":{"type":"rule","color":"#666","strokeWidth":0.7},"encoding":{"x2":{"field":"t2"}}},
{"data":{"values":[{"t":0,"pA":-100,"pA2":250},{"t":200,"pA":-100,"pA2":250}]},"mark":{"type":"rule","color":"#444"},"encoding":{"y2":{"field":"pA2"}}},
{"data":{"values":[{"t":106,"pA":425,"label":"250 pA"}]},"mark":{"type":"text","fontSize":13,"fontWeight":"normal","color":"#111"},"encoding":{"text":{"field":"label"}}},
{"data":{"values":[{"t":106,"pA":-325,"label":"200 mS"}]},"mark":{"type":"text","fontSize":13,"fontWeight":"normal","color":"#666"},"encoding":{"text":{"field":"label"}}}
]},
{"width":248,"height":30,"data":{"values":[{"a":0}]},"mark":{"type":"point","opacity":0},"encoding":{}},
{"width":252,"height":30,"data":{"values":[{"a":0}]},"mark":{"type":"point","opacity":0},"encoding":{}},
{"width":252,"height":92,"data":{"name":"sA"},"mark":{"type":"line","color":"#222","strokeWidth":1},"encoding":{"x":{"field":"t","type":"quantitative","axis":null,"scale":{"domain":[-106.4,356],"nice":false,"zero":false}},"y":{"field":"v","type":"quantitative","axis":null,"scale":{"domain":[-120.75,-5.75],"nice":false,"zero":false}}}},
{"width":248,"height":92,"data":{"name":"sB"},"mark":{"type":"line","color":"#ff00ff","strokeWidth":1},"encoding":{"x":{"field":"t","type":"quantitative","axis":null,"scale":{"domain":[-139.4,315.6],"nice":false,"zero":false}},"y":{"field":"v","type":"quantitative","axis":null,"scale":{"domain":[-112.25,2.75],"nice":false,"zero":false}}}},
{"width":252,"height":92,"data":{"name":"sC"},"mark":{"type":"line","color":"#0000ff","strokeWidth":1},"encoding":{"x":{"field":"t","type":"quantitative","axis":null,"scale":{"domain":[-139.4,322.9],"nice":false,"zero":false}},"y":{"field":"v","type":"quantitative","axis":null,"scale":{"domain":[-116.25,-1.25],"nice":false,"zero":false}}}},
{"width":252,"height":124,"encoding":{"x":{"field":"x","type":"quantitative","scale":{"domain":[0.662,3.176],"range":[47,218],"nice":false,"zero":false},"axis":{"values":[1,2,3],"offset":-3,"labelFontSize":14,"labelExpr":"datum.value==1?'Control':datum.value==2?'+ACh':'Washout'","labelColor":{"condition":[{"test":"datum.value==2","value":"#ff00ff"},{"test":"datum.value==3","value":"#0000ff"}],"value":"#222"}}},"y":{"field":"v","type":"quantitative","scale":{"domain":[-80.7,-40],"range":[121,4],"nice":false,"zero":false},"axis":{"values":[-40,-50,-60,-70,-80],"offset":-47}}},"layer":[
{"data":{"name":"dB"},"mark":{"type":"line","color":"#666","strokeWidth":1.2},"encoding":{"detail":{"field":"c"}}},
{"data":{"name":"dB"},"mark":{"type":"circle","size":70,"opacity":1},"encoding":{"color":{"field":"cond","type":"nominal","legend":null,"scale":{"domain":["Control","+ACh","Washout"],"range":["#000000","#ff00ff","#0000ff"]}}}},
{"data":{"values":[{"x":0,"v":-29.2,"label":"B"}]},"mark":{"type":"text","fontSize":21,"align":"left","color":"#333"},"encoding":{"text":{"field":"label"}}},
{"data":{"values":[{"x":2,"v":-35.8,"label":"P9-13"}]},"mark":{"type":"text","fontSize":15},"encoding":{"text":{"field":"label"}}},
{"data":{"values":[{"x":1.51,"v":-78.6,"label":"n=6"}]},"mark":{"type":"text","fontSize":13},"encoding":{"text":{"field":"label"}}},
{"data":{"values":[{"x":1.44,"v":-54.6,"label":"*"},{"x":2.56,"v":-51.1,"label":"*"}]},"mark":{"type":"text","fontSize":26,"color":"#333"},"encoding":{"text":{"field":"label"}}},
{"data":{"values":[{"x":0.147,"v":-59.8,"label":"RMP (mV)"}]},"mark":{"type":"text","fontSize":16,"angle":270,"color":"#333"},"encoding":{"text":{"field":"label"}}}
]},
{"width":248,"height":124,"encoding":{"x":{"field":"x","type":"quantitative","scale":{"domain":[0.518,3.383],"range":[63,265],"nice":false,"zero":false},"axis":{"values":[1,2,3],"offset":-1,"labelFontSize":14,"labelExpr":"datum.value==1?'Control':datum.value==2?'+ACh':'Washout'","labelColor":{"condition":[{"test":"datum.value==2","value":"#ff00ff"},{"test":"datum.value==3","value":"#0000ff"}],"value":"#222"}}},"y":{"field":"v","type":"quantitative","scale":{"domain":[-100,600],"range":[123,0],"nice":false,"zero":false},"axis":{"values":[-100,0,100,200,300,400,500,600],"offset":-63}}},"layer":[
{"data":{"name":"dC"},"mark":{"type":"line","color":"#666","strokeWidth":1.2},"encoding":{"detail":{"field":"c"}}},
{"data":{"name":"dC"},"mark":{"type":"circle","size":70,"opacity":1},"encoding":{"color":{"field":"cond","type":"nominal","legend":null,"scale":{"domain":["Control","+ACh","Washout"],"range":["#000000","#ff00ff","#0000ff"]}}}},
{"data":{"values":[{"x":-0.177,"v":742,"label":"C"}]},"mark":{"type":"text","fontSize":21,"align":"left","color":"#333"},"encoding":{"text":{"field":"label"}}},
{"data":{"values":[{"x":1.51,"v":-54,"label":"n=6"}]},"mark":{"type":"text","fontSize":13},"encoding":{"text":{"field":"label"}}},
{"data":{"values":[{"x":-0.149,"v":82,"label":"I"},{"x":-0.149,"v":452,"label":"(PA)"}]},"mark":{"type":"text","fontSize":17,"angle":270,"color":"#333"},"encoding":{"text":{"field":"label"}}},
{"data":{"values":[{"x":-0.021,"v":185,"label":"THRESH"}]},"mark":{"type":"text","fontSize":10,"angle":270,"fontWeight":"normal","color":"#333"},"encoding":{"text":{"field":"label"}}}
]},
{"width":252,"height":124,"encoding":{"x":{"field":"x","type":"quantitative","scale":{"domain":[0.496,3.321],"range":[63,248],"nice":false,"zero":false},"axis":{"values":[1,2,3],"labelFontSize":14,"labelAngle":330,"labelAlign":"right","labelBaseline":"top","labelExpr":"datum.value==1?'Threshold':datum.value==2?'+50 pA':'+100 pA'"}},"y":{"field":"v","type":"quantitative","scale":{"domain":[0,25],"range":[124,6],"nice":false,"zero":false},"axis":{"values":[0,5,10,15,20,25],"offset":-63}}},"layer":[
{"data":{"name":"eD"},"mark":{"type":"rule","strokeWidth":1},"encoding":{"y2":{"field":"v2"},"color":{"field":"cond","type":"nominal","legend":null,"scale":{"domain":["Control","+ACh","Washout"],"range":["#000000","#ff00ff","#0000ff"]}}}},
{"data":{"name":"cD"},"mark":{"type":"tick","orient":"horizontal","size":4,"thickness":1},"encoding":{"color":{"field":"cond","type":"nominal","legend":null}}},
{"data":{"name":"dD"},"mark":{"type":"line","strokeWidth":1.2},"encoding":{"color":{"field":"cond","type":"nominal","legend":null},"detail":{"field":"cond"}}},
{"data":{"name":"dD"},"mark":{"type":"circle","size":70,"opacity":1},"encoding":{"color":{"field":"cond","type":"nominal","legend":null}}},
{"data":{"values":[{"x":-0.053,"v":31.6,"label":"D"}]},"mark":{"type":"text","fontSize":21,"align":"left","color":"#333"},"encoding":{"text":{"field":"label"}}},
{"data":{"values":[{"x":3,"v":23.9,"label":"*"}]},"mark":{"type":"text","fontSize":26,"color":"#ff00ff"},"encoding":{"text":{"field":"label"}}},
{"data":{"values":[{"x":1.58,"v":1.5,"label":"n=6"}]},"mark":{"type":"text","fontSize":13},"encoding":{"text":{"field":"label"}}},
{"data":{"values":[{"x":2.51,"v":1.5,"label":"re:Thresh"}]},"mark":{"type":"text","fontSize":10,"color":"#777"},"encoding":{"text":{"field":"label"}}},
{"data":{"values":[{"x":-0.008,"v":7.6,"label":"AP"},{"x":-0.008,"v":17.8,"label":"(#)"}]},"mark":{"type":"text","fontSize":17,"angle":270,"color":"#333"},"encoding":{"text":{"field":"label"}}},
{"data":{"values":[{"x":0.16,"v":12.7,"label":"COUNT"}]},"mark":{"type":"text","fontSize":9,"angle":270,"fontWeight":"normal","color":"#333"},"encoding":{"text":{"field":"label"}}}
]},
{"width":252,"height":172,"encoding":{"x":{"field":"t","type":"quantitative","axis":null,"scale":{"domain":[-106.4,356],"nice":false,"zero":false}},"y":{"field":"v","type":"quantitative","axis":null,"scale":{"domain":[-119.5,95.5],"nice":false,"zero":false}}},"layer":[
{"data":{"name":"aE"},"mark":{"type":"area","color":{"gradient":"linear","x1":0,"x2":0,"y1":0,"y2":1,"stops":[{"offset":0,"color":"#555555"},{"offset":0.55,"color":"#666666"},{"offset":0.8,"color":"#999999"},{"offset":0.86,"color":"#cccccc"},{"offset":0.88,"color":"#888888"},{"offset":0.93,"color":"#dddddd"},{"offset":0.95,"color":"#999999"},{"offset":1,"color":"#dddddd"}]}},"encoding":{"y2":{"field":"low"}}},
{"data":{"name":"bE"},"mark":{"type":"area","color":"#5a5a5a"},"encoding":{"y2":{"field":"low"}}},
{"data":{"name":"preE"},"mark":{"type":"line","color":"#555","strokeWidth":2.5}},
{"data":{"name":"fE"},"mark":{"type":"line","color":"#808080","strokeWidth":1,"interpolate":"monotone"},"encoding":{"detail":{"field":"s"}}},
{"data":{"name":"kE"},"mark":{"type":"line","color":"#111","strokeWidth":1.2}},
{"data":{"values":[{"t":319,"t2":343,"v":-18}]},"mark":{"type":"rule","color":"#000"},"encoding":{"x2":{"field":"t2"}}},
{"data":{"values":[{"t":319,"v":-18,"v2":2}]},"mark":{"type":"rule","color":"#000"},"encoding":{"y2":{"field":"v2"}}},
{"data":{"values":[{"t":-103,"v":53,"label":"Post-hearing"}]},"mark":{"type":"text","fontSize":25,"align":"left","color":"#333"},"encoding":{"text":{"field":"label"}}},
{"data":{"values":[{"t":-103,"v":22,"label":"E"}]},"mark":{"type":"text","fontSize":21,"align":"left","color":"#333"},"encoding":{"text":{"field":"label"}}},
{"data":{"values":[{"t":101,"v":23,"label":"Control"},{"t":97,"v":-6,"label":"P18"}]},"mark":{"type":"text","fontSize":15,"color":"#333"},"encoding":{"text":{"field":"label"}}},
{"data":{"values":[{"t":273,"v":-9.5,"label":"20 mV"},{"t":385,"v":-16,"label":"25 mS"}]},"mark":{"type":"text","fontSize":13,"color":"#000"},"encoding":{"text":{"field":"label"}}},
{"data":{"values":[{"t":-59,"v":-49.5,"label":"-62"},{"t":-59,"v":-77,"label":"mV"}]},"mark":{"type":"text","fontSize":16,"color":"#333"},"encoding":{"text":{"field":"label"}}}
]},
{"width":248,"height":172,"encoding":{"x":{"field":"t","type":"quantitative","axis":null,"scale":{"domain":[-137.6,317.5],"nice":false,"zero":false}},"y":{"field":"v","type":"quantitative","axis":null,"scale":{"domain":[-114.25,100.75],"nice":false,"zero":false}}},"layer":[
{"data":{"name":"aF"},"mark":{"type":"area","color":{"gradient":"linear","x1":0,"x2":0,"y1":0,"y2":1,"stops":[{"offset":0,"color":"#ff00ff"},{"offset":0.45,"color":"#ff33ff"},{"offset":0.75,"color":"#ff88ff"},{"offset":0.83,"color":"#ffccff"},{"offset":0.85,"color":"#ff77ff"},{"offset":0.92,"color":"#ffe0ff"},{"offset":0.94,"color":"#ff88ff"},{"offset":1,"color":"#ffe6ff"}]}},"encoding":{"y2":{"field":"low"}}},
{"data":{"name":"bF"},"mark":{"type":"area","color":"#ff00ff"},"encoding":{"y2":{"field":"low"}}},
{"data":{"name":"fF"},"mark":{"type":"line","color":"#ff00ff","strokeWidth":1,"interpolate":"monotone"},"encoding":{"detail":{"field":"s"}}},
{"data":{"name":"kF"},"mark":{"type":"line","color":"#222","strokeWidth":0.9}},
{"data":{"values":[{"t":101,"v":19.5,"label":"+ACh"}]},"mark":{"type":"text","fontSize":15,"color":"#ff00ff"},"encoding":{"text":{"field":"label"}}},
{"data":{"values":[{"t":-77,"v":-44,"label":"-58"},{"t":-77,"v":-70.5,"label":"mV"}]},"mark":{"type":"text","fontSize":16,"color":"#ff00ff"},"encoding":{"text":{"field":"label"}}}
]},
{"width":252,"height":172,"encoding":{"x":{"field":"t","type":"quantitative","axis":null,"scale":{"domain":[-139.4,322.9],"nice":false,"zero":false}},"y":{"field":"v","type":"quantitative","axis":null,"scale":{"domain":[-114.75,100.25],"nice":false,"zero":false}}},"layer":[
{"data":{"name":"aG"},"mark":{"type":"area","color":{"gradient":"linear","x1":0,"x2":0,"y1":0,"y2":1,"stops":[{"offset":0,"color":"#0000ff"},{"offset":0.6,"color":"#1a1aff"},{"offset":0.8,"color":"#6666ff"},{"offset":0.85,"color":"#bbbbff"},{"offset":0.87,"color":"#5555ff"},{"offset":0.93,"color":"#d5d5ff"},{"offset":0.95,"color":"#6666ff"},{"offset":1,"color":"#ddddff"}]}},"encoding":{"y2":{"field":"low"}}},
{"data":{"name":"bG"},"mark":{"type":"area","color":"#0000ff"},"encoding":{"y2":{"field":"low"}}},
{"data":{"name":"preG"},"mark":{"type":"line","color":"#111","strokeWidth":2.5}},
{"data":{"name":"postG"},"mark":{"type":"line","color":"#111","strokeWidth":1.5}},
{"data":{"name":"fG"},"mark":{"type":"line","color":"#0000ff","strokeWidth":1.1,"interpolate":"monotone"},"encoding":{"detail":{"field":"s"}}},
{"data":{"name":"kG"},"mark":{"type":"line","color":"#111","strokeWidth":1.2}},
{"data":{"values":[{"t":105,"v":25,"label":"Washout"}]},"mark":{"type":"text","fontSize":15,"color":"#0000ff"},"encoding":{"text":{"field":"label"}}},
{"data":{"values":[{"t":-83,"v":-45,"label":"-61"},{"t":-83,"v":-72,"label":"mV"}]},"mark":{"type":"text","fontSize":16,"color":"#0000ff"},"encoding":{"text":{"field":"label"}}}
]},
{"width":252,"height":24,"encoding":{"x":{"field":"t","type":"quantitative","axis":null,"scale":{"domain":[-106.4,356],"nice":false,"zero":false}},"y":{"field":"pA","type":"quantitative","axis":null,"scale":{"domain":[-800,2400],"nice":false,"zero":false}}},"layer":[
{"data":{"name":"stimE"},"mark":{"type":"rule","color":"#666","strokeWidth":1},"encoding":{"x2":{"field":"t2"}}},
{"data":{"values":[{"t":0,"pA":-500,"pA2":1600},{"t":200,"pA":-500,"pA2":1600}]},"mark":{"type":"rule","color":"#444"},"encoding":{"y2":{"field":"pA2"}}},
{"data":{"values":[{"t":106,"pA":2400,"label":"1600 pA"}]},"mark":{"type":"text","fontSize":13,"fontWeight":"normal","color":"#111"},"encoding":{"text":{"field":"label"}}},
{"data":{"values":[{"t":106,"pA":-1860,"label":"200 mS"}]},"mark":{"type":"text","fontSize":13,"fontWeight":"normal","color":"#666"},"encoding":{"text":{"field":"label"}}}
]},
{"width":248,"height":24,"data":{"values":[{"a":0}]},"mark":{"type":"point","opacity":0},"encoding":{}},
{"width":252,"height":24,"data":{"values":[{"a":0}]},"mark":{"type":"point","opacity":0},"encoding":{}},
{"width":252,"height":128,"data":{"name":"sE"},"mark":{"type":"line","color":"#111","strokeWidth":1.2},"encoding":{"x":{"field":"t","type":"quantitative","axis":null,"scale":{"domain":[-106.4,356],"nice":false,"zero":false}},"y":{"field":"v","type":"quantitative","axis":null,"scale":{"domain":[-140.75,19.25],"nice":false,"zero":false}}}},
{"width":248,"height":128,"data":{"name":"sF"},"mark":{"type":"line","color":"#ff00ff","strokeWidth":1.1},"encoding":{"x":{"field":"t","type":"quantitative","axis":null,"scale":{"domain":[-137.6,317.5],"nice":false,"zero":false}},"y":{"field":"v","type":"quantitative","axis":null,"scale":{"domain":[-134.25,25.75],"nice":false,"zero":false}}}},
{"width":252,"height":128,"data":{"name":"sG"},"mark":{"type":"line","color":"#0000ff","strokeWidth":1.1},"encoding":{"x":{"field":"t","type":"quantitative","axis":null,"scale":{"domain":[-139.4,322.9],"nice":false,"zero":false}},"y":{"field":"v","type":"quantitative","axis":null,"scale":{"domain":[-129.75,30.25],"nice":false,"zero":false}}}},
{"width":252,"height":126,"encoding":{"x":{"field":"x","type":"quantitative","scale":{"domain":[0.496,3.326],"range":[47,238],"nice":false,"zero":false},"axis":{"values":[1,2,3],"offset":-3,"labelFontSize":14,"labelExpr":"datum.value==1?'Control':datum.value==2?'+ACh':'Washout'","labelColor":{"condition":[{"test":"datum.value==2","value":"#ff00ff"},{"test":"datum.value==3","value":"#0000ff"}],"value":"#222"}}},"y":{"field":"v","type":"quantitative","scale":{"domain":[-81.4,-40],"range":[123,5],"nice":false,"zero":false},"axis":{"values":[-40,-50,-60,-70,-80],"offset":-47}}},"layer":[
{"data":{"name":"dF"},"mark":{"type":"line","color":"#666","strokeWidth":1.2},"encoding":{"detail":{"field":"c"}}},
{"data":{"name":"dF"},"mark":{"type":"circle","size":70,"opacity":1},"encoding":{"color":{"field":"cond","type":"nominal","legend":null,"scale":{"domain":["Control","+ACh","Washout"],"range":["#000000","#ff00ff","#0000ff"]}}}},
{"data":{"values":[{"x":-0.17,"v":-31.6,"label":"F"}]},"mark":{"type":"text","fontSize":21,"align":"left","color":"#333"},"encoding":{"text":{"field":"label"}}},
{"data":{"values":[{"x":1.98,"v":-32.3,"label":"P18-20"}]},"mark":{"type":"text","fontSize":15},"encoding":{"text":{"field":"label"}}},
{"data":{"values":[{"x":1.5,"v":-79.3,"label":"n=7"}]},"mark":{"type":"text","fontSize":13},"encoding":{"text":{"field":"label"}}},
{"data":{"values":[{"x":1.46,"v":-59.3,"label":"*"}]},"mark":{"type":"text","fontSize":26,"color":"#333"},"encoding":{"text":{"field":"label"}}},
{"data":{"values":[{"x":-0.037,"v":-58.2,"label":"RMP (mV)"}]},"mark":{"type":"text","fontSize":16,"angle":270,"color":"#333"},"encoding":{"text":{"field":"label"}}}
]},
{"width":248,"height":126,"encoding":{"x":{"field":"x","type":"quantitative","scale":{"domain":[0.456,3.177],"range":[53,253],"nice":false,"zero":false},"axis":{"values":[1,2,3],"offset":-2,"labelFontSize":14,"labelExpr":"datum.value==1?'Control':datum.value==2?'+ACh':'Washout'","labelColor":{"condition":[{"test":"datum.value==2","value":"#ff00ff"},{"test":"datum.value==3","value":"#0000ff"}],"value":"#222"}}},"y":{"field":"v","type":"quantitative","scale":{"domain":[-111.5,600],"range":[124,0],"nice":false,"zero":false},"axis":{"values":[-100,0,100,200,300,400,500,600],"offset":-53}}},"layer":[
{"data":{"name":"dG"},"mark":{"type":"line","color":"#666","strokeWidth":1.2},"encoding":{"detail":{"field":"c"}}},
{"data":{"name":"dG"},"mark":{"type":"circle","size":70,"opacity":1},"encoding":{"color":{"field":"cond","type":"nominal","legend":null,"scale":{"domain":["Control","+ACh","Washout"],"range":["#000000","#ff00ff","#0000ff"]}}}},
{"data":{"values":[{"x":-0.197,"v":715,"label":"G"}]},"mark":{"type":"text","fontSize":21,"align":"left","color":"#333"},"encoding":{"text":{"field":"label"}}},
{"data":{"values":[{"x":1.46,"v":-72,"label":"n=7"}]},"mark":{"type":"text","fontSize":13},"encoding":{"text":{"field":"label"}}},
{"data":{"values":[{"x":-0.184,"v":95,"label":"I"},{"x":-0.184,"v":445,"label":"(PA)"}]},"mark":{"type":"text","fontSize":17,"angle":270,"color":"#333"},"encoding":{"text":{"field":"label"}}},
{"data":{"values":[{"x":-0.048,"v":210,"label":"THRESH"}]},"mark":{"type":"text","fontSize":10,"angle":270,"fontWeight":"normal","color":"#333"},"encoding":{"text":{"field":"label"}}}
]},
{"width":252,"height":126,"encoding":{"x":{"field":"x","type":"quantitative","scale":{"domain":[0.485,3.485],"range":[50,248],"nice":false,"zero":false},"axis":{"values":[1,2,3],"offset":-1,"labelFontSize":14,"labelAngle":330,"labelAlign":"right","labelBaseline":"top","labelExpr":"datum.value==1?'Threshold':datum.value==2?'+50 pA':'+100 pA'"}},"y":{"field":"v","type":"quantitative","scale":{"domain":[-0.07,5],"range":[125,6],"nice":false,"zero":false},"axis":{"values":[0,1,2,3,4,5],"offset":-50}}},"layer":[
{"data":{"name":"dH"},"transform":[{"filter":"datum.cond=='Control'"}],"mark":{"type":"line","color":"#222","strokeWidth":1.5}},
{"data":{"name":"dH"},"transform":[{"filter":"datum.cond=='+ACh'"}],"mark":{"type":"circle","size":70,"opacity":1,"color":"#ff00ff","xOffset":-7}},
{"data":{"name":"dH"},"transform":[{"filter":"datum.cond=='Washout'"}],"mark":{"type":"circle","size":70,"opacity":1,"color":"#0000ff","xOffset":6}},
{"data":{"name":"dH"},"transform":[{"filter":"datum.cond=='Control'"}],"mark":{"type":"circle","size":70,"opacity":1,"color":"#000000"}},
{"data":{"values":[{"x":0.015,"v":6.1,"label":"H"}]},"mark":{"type":"text","fontSize":21,"align":"left","color":"#333"},"encoding":{"text":{"field":"label"}}},
{"data":{"values":[{"x":1.52,"v":0.27,"label":"n=7"}]},"mark":{"type":"text","fontSize":13},"encoding":{"text":{"field":"label"}}},
{"data":{"values":[{"x":3.09,"v":0.35,"label":"re:Thresh"}]},"mark":{"type":"text","fontSize":10,"color":"#777"},"encoding":{"text":{"field":"label"}}},
{"data":{"values":[{"x":0.045,"v":1.29,"label":"AP"},{"x":0.045,"v":3.89,"label":"(#)"}]},"mark":{"type":"text","fontSize":17,"angle":270,"color":"#333"},"encoding":{"text":{"field":"label"}}},
{"data":{"values":[{"x":0.197,"v":2.19,"label":"COUNT"}]},"mark":{"type":"text","fontSize":9,"angle":270,"fontWeight":"normal","color":"#333"},"encoding":{"text":{"field":"label"}}}
]},
{"width":252,"height":42,"data":{"values":[{"a":0}]},"mark":{"type":"point","opacity":0},"encoding":{}},
{"width":248,"height":42,"data":{"values":[{"a":0}]},"mark":{"type":"point","opacity":0},"encoding":{}},
{"width":252,"height":42,"data":{"values":[{"a":0}]},"mark":{"type":"point","opacity":0},"encoding":{}}
]}
